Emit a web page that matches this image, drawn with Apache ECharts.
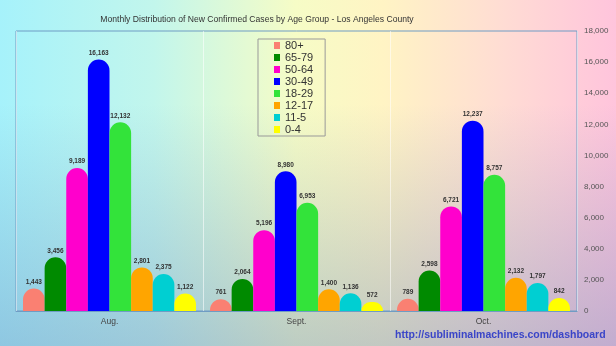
<!DOCTYPE html>
<html><head><meta charset="utf-8">
<script src="https://cdn.jsdelivr.net/npm/echarts@6/dist/echarts.min.js"></script>
<style>
html,body{margin:0;padding:0;width:616px;height:346px;overflow:hidden;}
body{
 background:
  linear-gradient(to bottom, rgba(110,140,190,0) 0%, rgba(110,140,190,0) 30%, rgba(110,140,190,0.42) 100%),
  linear-gradient(to right, #a6f2fb 0%, #c2f6ec 25%, #f6fcc6 48%, #fff4c4 62%, #ffdcd4 82%, #ffc4dc 100%);
}
#c{width:616px;height:346px;}
</style></head>
<body><div id="c"></div>
<script>
const categories = ['Aug.', 'Sept.', 'Oct.'];
const seriesNames = ['80+', '65-79', '50-64', '30-49', '18-29', '12-17', '11-5', '0-4'];
const v80plus = [1443, 761, 789];
const v65_79 = [3456, 2064, 2598];
const v50_64 = [9189, 5196, 6721];
const v30_49 = [16163, 8980, 12237];
const v18_29 = [12132, 6953, 8757];
const v12_17 = [2801, 1400, 2132];
const v11_5 = [2375, 1136, 1797];
const v0_4 = [1122, 572, 842];
const yTicks = [0, 2000, 4000, 6000, 8000, 10000, 12000, 14000, 16000, 18000];

const values = [v80plus, v65_79, v50_64, v30_49, v18_29, v12_17, v11_5, v0_4];
const colors = ['#fa8072', '#008a00', '#ff00cc', '#0000ff', '#33e33a', '#ffa500', '#00cfd2', '#ffff00'];

const chart = echarts.init(document.getElementById('c'), null, {renderer: 'canvas'});
chart.setOption({
  backgroundColor: 'transparent',
  animation: false,
  color: colors,
  title: {
    text: 'Monthly Distribution of New Confirmed Cases by Age Group - Los Angeles County',
    left: 252, top: 10, textAlign: 'center',
    textStyle: {fontFamily: 'Liberation Sans', fontSize: 8.6, fontWeight: 'normal', color: '#333'}
  },
  legend: {
    orient: 'vertical',
    left: 258, top: 39,
    padding: [1, 12, 1, 16],
    itemGap: 1,
    itemWidth: 6, itemHeight: 7,
    borderColor: '#999', borderWidth: 1,
    icon: 'rect',
    textStyle: {fontFamily: 'Liberation Sans', fontSize: 11, lineHeight: 11, color: '#333'},
    data: seriesNames
  },
  graphic: [{
    type: 'text', left: 395, top: 330,
    style: {text: 'http://subliminalmachines.com/dashboard', fill: '#3a45c8',
      font: 'bold 10.5px "Liberation Sans"'}
  }],
  grid: {left: 16, right: 39, top: 31, bottom: 35, show: true, borderColor: '#6f9cc4', borderWidth: 1, backgroundColor: 'transparent'},
  xAxis: {
    type: 'category', data: categories,
    axisLine: {lineStyle: {color: '#6f9cc4'}},
    axisTick: {show: false},
    splitLine: {show: true, interval: 0, lineStyle: {color: 'rgba(255,255,255,0.55)', width: 1}},
    axisLabel: {fontFamily: 'Liberation Sans', fontSize: 8.5, color: '#444', margin: 6}
  },
  yAxis: {
    type: 'value', position: 'right', min: 0, max: 18000, interval: 2000,
    axisLine: {show: false}, axisTick: {show: false}, splitLine: {show: false},
    axisLabel: {fontFamily: 'Liberation Sans', fontSize: 8, color: '#555', margin: 7,
      formatter: v => yTicks.includes(v) ? v.toLocaleString('en-US') : ''}
  },
  series: seriesNames.map((n, i) => ({
    name: n, type: 'bar', data: values[i],
    barGap: '0%', barCategoryGap: '7.5%',
    itemStyle: {borderRadius: [11, 11, 0, 0]},
    label: {show: true, position: 'top', distance: 3, fontFamily: 'Liberation Sans', fontSize: 6.5, fontWeight: 'bold', color: '#333',
      formatter: p => p.value.toLocaleString('en-US')}
  }))
});
</script></body></html>
